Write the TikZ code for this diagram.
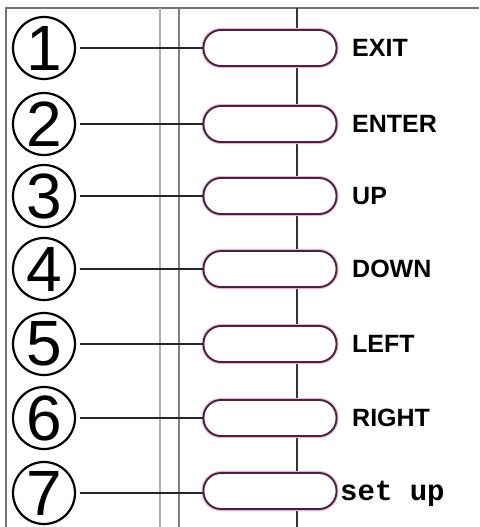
\documentclass[tikz,border=0pt]{standalone}
\usepackage{fontspec}
\setmainfont{Liberation Sans}
\newfontfamily\monof{Liberation Mono}
\begin{document}
\begin{tikzpicture}[x=1pt,y=-1pt,
  frame/.style={draw=black!55,line width=1.4pt},
  pill/.style={draw=pillc,line width=1.9pt,fill=white,rounded corners=17.5pt,minimum width=133pt,minimum height=36pt,inner sep=0pt,
    preaction={draw=pinkglow,line width=4pt}},
  numc/.style={circle,draw=black,line width=2.2pt,minimum size=62pt,inner sep=0pt,font=\fontsize{64}{64}\selectfont},
  lbl/.style={anchor=west,font=\fontsize{25}{25}\selectfont\bfseries,inner sep=0pt},
  wire/.style={draw=black!85,line width=1.7pt}]
\definecolor{pillc}{HTML}{4A2240}
\definecolor{pinkglow}{HTML}{EFB0D4}
\definecolor{pinkline}{HTML}{BFA6B8}
\useasboundingbox (0,0) rectangle (479,527);
\fill[white] (0,0) rectangle (479,527);
% frame lines
\coordinate (tl) at (6,8);
\coordinate (tr) at (479,8);
\coordinate (bl) at (6,527);
\draw[frame] (tr) -- (tl) -- (bl);
\coordinate (va1) at (160,8); \coordinate (vb1) at (160,527);
\coordinate (va2) at (179,8); \coordinate (vb2) at (179,527);
\coordinate (va3) at (297,8); \coordinate (vb3) at (297,527);
\draw[draw=pinkline,line width=1.8pt] (va1) -- (vb1);
\draw[draw=black!50,line width=1.6pt] (va2) -- (vb2);
\draw[draw=black!80,line width=1.4pt] (va3) -- (vb3);
\foreach \i/\y/\t in {1/48/EXIT,2/124/ENTER,3/196/UP,4/269/DOWN,5/344/LEFT,6/418/RIGHT}{
  \node[numc] (c\i) at (44,\y) {\raisebox{-1pt}{\i}};
  \node[pill] (p\i) at (270,\y) {};
  \draw[wire] (c\i.east) ++(4,0) coordinate (w\i) -- (p\i.west);
  \node[lbl] (l\i) at (352,\y) {\t};
}
\node[numc] (c7) at (44,493) {\raisebox{-1pt}{7}};
\node[pill] (p7) at (270,491) {};
\draw[wire] (c7.east) ++(4,0) coordinate (w7) -- (p7.west |- c7);
\node[anchor=west,inner sep=0pt,font=\monof\fontsize{29}{29}\selectfont\bfseries] (l7) at (340,494) {set up};
\end{tikzpicture}
\end{document}
